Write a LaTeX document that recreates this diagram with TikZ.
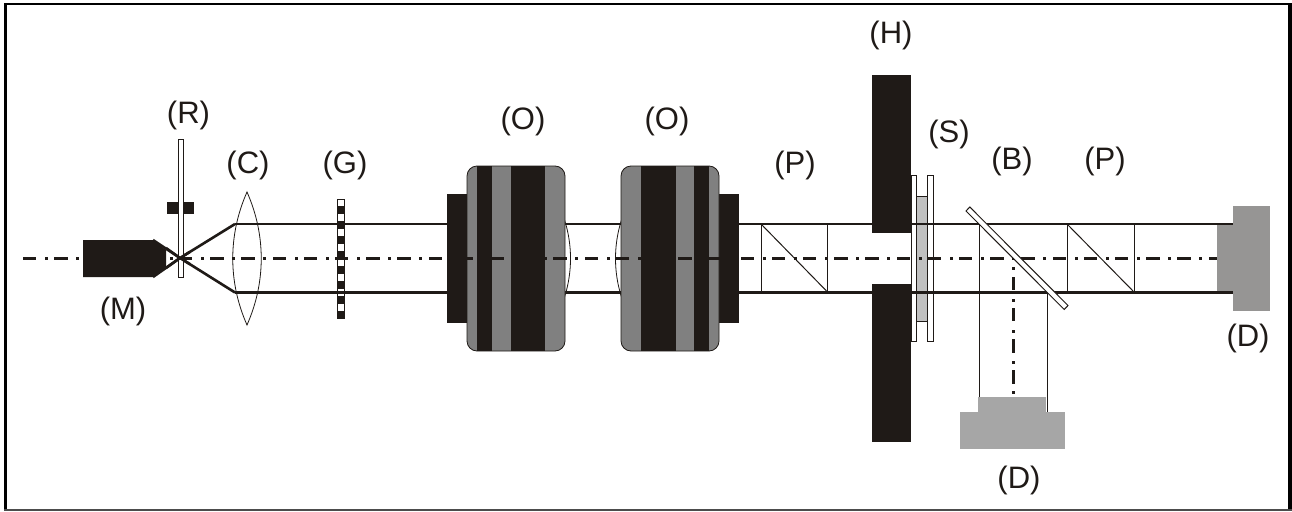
\documentclass[tikz,border=0pt]{standalone}
\usepackage{fontspec}
\setmainfont{Liberation Sans}
\definecolor{ink}{HTML}{1F1A17}
\definecolor{objgray}{HTML}{808080}
\definecolor{lightg}{HTML}{C0C0C0}
\definecolor{detg}{HTML}{A6A6A6}
\definecolor{detr}{HTML}{969594}
\tikzset{
  lab/.style={font=\fontsize{31}{33}\selectfont,text=ink,inner sep=0pt,anchor=center},
  beam/.style={draw=ink,line width=2.6pt},
  fine/.style={draw=ink,line width=1pt},
  solidblk/.style={fill=ink,draw=none},
  whitebar/.style={fill=white,draw=ink,line width=1pt}
}
\newcommand{\beamh}[2]{\fill[ink] (#1,222.6) rectangle (#2,225.4); \fill[ink] (#1,291.1) rectangle (#2,293.9);}
\begin{document}
\begin{tikzpicture}[x=1pt,y=-1pt]
\useasboundingbox (0,0) rectangle (1292,511);
\fill[white] (0,0) rectangle (1292,511);
% frame
\fill[black] (4,3.5) rectangle (1292,5.5);
\fill[black] (4,3.5) rectangle (6.5,511);
\fill[black] (1288,3.5) rectangle (1292,511);
\fill[black!70] (4,509) rectangle (1292,511);
% beams
\draw[beam] (153,240) -- (180,258) -- (235,224);
\draw[beam] (153,277) -- (180,258) -- (235,292.5);
\beamh{234.5}{447}
\beamh{565}{621}
\beamh{739}{872}
\beamh{911}{1233}
% R
\fill[solidblk] (167,202) rectangle (194,214);
\draw[whitebar] (178.3,139.5) rectangle (183.3,277);
\draw[beam] (166,248) -- (180,258) -- (190,251.8);
\draw[beam] (166,268) -- (180,258) -- (190,264.2);
% M
\fill[solidblk] (83,240) -- (153,240) -- (166,250) -- (166,267) -- (153,277) -- (83,277) -- cycle;
% C
\draw[fine,line width=0.8pt] (247,192) .. controls (228,235) and (228,282) .. (247,325) .. controls (266,282) and (266,235) .. (247,192) -- cycle;
% G
\fill[solidblk] (337,199) rectangle (345,318.5);
\draw[ink,line width=0.6pt,fill=white] (337.3,199) rectangle (344.7,206.5);
\foreach \k in {1,2,3,4,5,6,7} \fill[white] (338,{199+\k*14.95}) rectangle (344,{206.5+\k*14.95});
\beamh{335}{347}
% lenses of objectives
\draw[fine,line width=0.8pt] (560,208) .. controls (574,240) and (574,277) .. (560,309);
\draw[fine,line width=0.8pt] (626,208) .. controls (612,240) and (612,277) .. (626,309);
% left objective
\fill[solidblk] (447,194) rectangle (468,323);
\draw[ink,line width=0.8pt,fill=objgray,rounded corners=10pt] (467,166) rectangle (565,351);
\fill[solidblk] (477,166) rectangle (492,351);
\fill[solidblk] (511,166) rectangle (545,351);
% right objective
\fill[solidblk] (718,194) rectangle (739,323);
\draw[ink,line width=0.8pt,fill=objgray,rounded corners=10pt] (621,166) rectangle (719,351);
\fill[solidblk] (641,166) rectangle (676,351);
\fill[solidblk] (694,166) rectangle (709,351);
% prisms
\draw[fine] (761,224) rectangle (827.5,292);
\draw[fine] (761,224) -- (827.5,292);
\draw[fine] (1067,224) rectangle (1134,292);
\draw[fine] (1067,224) -- (1134,292);
% H
\fill[solidblk] (872,75) rectangle (911,233);
\fill[solidblk] (872,284) rectangle (911,442);
% S
\draw[whitebar] (911,175.5) rectangle (916.3,341);
\draw[whitebar] (927.8,175.5) rectangle (933,341);
\draw[ink,line width=0.7pt,fill=lightg] (916.3,196) rectangle (927.8,321);
\beamh{911}{933}
% fold beam
\draw[fine] (979,224) -- (979,412);
\draw[fine] (1047,292) -- (1047,412);
% detectors
\fill[detg] (978,397) rectangle (1046,412);
\fill[detg] (960,412) rectangle (1065,449);
\fill[detr] (1217,225.4) rectangle (1233,291.1);
\fill[detr] (1233,206) rectangle (1270,311);
% axes
\foreach \k [evaluate=\k as \xa using 22.9+31.2*\k] in {0,...,38} {
  \fill[ink] (\xa,256.7) rectangle ({min(\xa+13.5,1217)},259.5);
  \ifnum\k<38 \fill[ink] (\xa+22,256.7) rectangle (\xa+25,259.5); \fi
}
\foreach \k [evaluate=\k as \ya using 276.6+31.2*\k] in {0,...,3} {
  \fill[ink] (1011.5,\ya) rectangle (1014.5,\ya+13.5);
  \fill[ink] (1011.5,\ya-9.2) rectangle (1014.5,\ya-6.2);
}
\fill[ink] (1011.5,391) rectangle (1014.5,394);
% beam splitter
\draw[whitebar] (966,211) -- (969.8,207) -- (1068,305.5) -- (1064.2,309.5) -- cycle;
% labels
\node[lab] (labR) at (188.5,115) {(R)};
\node[lab] (labC) at (248,165) {(C)};
\node[lab] (labG) at (345,165) {(G)};
\node[lab] (labO1) at (523,121) {(O)};
\node[lab] (labO2) at (667,121) {(O)};
\node[lab] (labP1) at (795,165) {(P)};
\node[lab] (labH) at (891,35) {(H)};
\node[lab] (labS) at (949,134) {(S)};
\node[lab] (labB) at (1012,161) {(B)};
\node[lab] (labP2) at (1105,161) {(P)};
\node[lab] (labM) at (123,311) {(M)};
\node[lab] (labD1) at (1019,480) {(D)};
\node[lab] (labD2) at (1248,338) {(D)};
\end{tikzpicture}
\end{document}
